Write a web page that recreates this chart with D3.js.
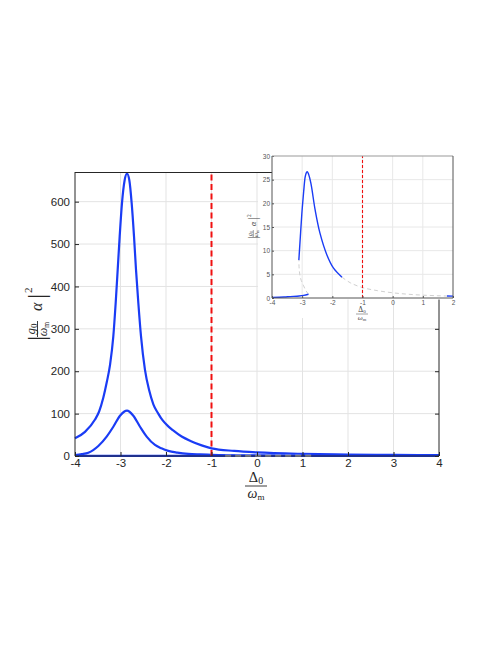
<!DOCTYPE html>
<html><head><meta charset="utf-8">
<script src="https://cdn.jsdelivr.net/npm/d3@7/dist/d3.min.js"></script>
<style>body{margin:0;background:#fff}svg{display:block}</style>
</head><body>
<svg id="c" width="498" height="645"></svg>
<script>
// ---------- data ----------
const mainXTicks = [-4,-3,-2,-1,0,1,2,3,4];
const mainYTicks = [0,100,200,300,400,500,600];
const upperX = [-4,-3.78,-3.56,-3.47,-3.377,-3.3,-3.23,-3.158,-3.106,-3.062,-3.018,-2.967,-2.91,-2.857,-2.805,-2.755,-2.703,-2.659,-2.608,-2.549,-2.462,-2.37,-2.278,-2.17,-2.081,-1.95,-1.85,-1.656,-1.45,-1.216,-1,-0.5,0,1,2,3,4];
const upperY = [41.7,57,86,105,138,175,215,282,361,439,518,597,650,666,650,597,518,439,361,282,203,155,122,100,85,70,61,46,35,25,18,12,8.5,5,3.4,2.5,2];
const middleX = [-4,-3.85,-3.707,-3.6,-3.487,-3.304,-3.158,-3.011,-2.857,-2.718,-2.571,-2.425,-2.242,-2.1,-1.949,-1.75,-1.509,-1.25,-1,0,1,2,3,4];
const middleY = [2.4,4.5,7.9,14,23.6,45.7,69,95,107,95,69,45.7,26,18,12,8,5,3.8,3,1.5,0.9,0.6,0.5,0.4];
const lowerX = [-4,0,4];
const lowerY = [0.5,0.4,0.3];
const unstableMainX = [-0.7,1.27];
const unstableMainY = [0.5,0.5];
const markerX = -1;

const insetXTicks = [-4,-3,-2,-1,0,1,2];
const insetYTicks = [0,5,10,15,20,25,30];
const inUpX = [-3.11,-3.06,-3.01,-2.95,-2.9,-2.86,-2.83,-2.79,-2.71,-2.57,-2.41,-2.18,-1.96,-1.68];
const inUpY = [8,13,17.9,22.5,25.6,26.5,26.7,26.2,24.2,18.6,13.7,9.1,6.3,4.4];
const inTailX = [-1.68,-1.4,-1,-0.5,0,0.5,1,1.5,1.8];
const inTailY = [4.4,3.2,2.2,1.55,1.1,0.8,0.6,0.48,0.42];
const inEndX = [1.8,2];
const inEndY = [0.42,0.4];
const inLowX = [-4,-3.6,-3.4,-3.1,-2.95,-2.79];
const inLowY = [0.14,0.2,0.3,0.42,0.55,0.8];
const inMidX = [-2.79,-2.88,-2.96,-3.03,-3.07,-3.1,-3.11];
const inMidY = [0.8,1.6,2.7,3.7,4.6,6.2,8];

// ---------- helpers ----------
const svg = d3.select('#c');
const blue = '#1a3cf5', red = '#f01010', gray = '#c8c8c8';
const zip = (xs, ys) => xs.map((x,i)=>[x,ys[i]]);
const fmt = d => String(d);

// ---------- main axes ----------
const M = {l:75, r:439, t:172, b:456};
const x = d3.scaleLinear().domain([-4,4]).range([M.l,M.r]);
const y = d3.scaleLinear().domain([0,670]).range([M.b,M.t]);
const gMain = svg.append('g');
gMain.selectAll('.vg').data(mainXTicks.slice(1,-1)).join('line')
  .attr('x1',d=>x(d)).attr('x2',d=>x(d)).attr('y1',M.t).attr('y2',M.b)
  .attr('stroke','#e3e3e3').attr('stroke-width',1);
gMain.selectAll('.hg').data(mainYTicks.slice(1)).join('line')
  .attr('x1',M.l).attr('x2',M.r).attr('y1',d=>y(d)).attr('y2',d=>y(d))
  .attr('stroke','#e3e3e3').attr('stroke-width',1);

const lineMain = d3.line().x(d=>x(d[0])).y(d=>y(d[1])).curve(d3.curveMonotoneX);
[zip(upperX,upperY), zip(middleX,middleY), zip(lowerX,lowerY)].forEach(d=>{
  gMain.append('path').attr('d',lineMain(d)).attr('fill','none')
    .attr('stroke',blue).attr('stroke-width',2.2);
});
gMain.append('path').attr('d',lineMain(zip(unstableMainX,unstableMainY))).attr('fill','none')
  .attr('stroke',gray).attr('stroke-width',2).attr('stroke-dasharray','6,4');
gMain.append('line').attr('x1',x(markerX)).attr('x2',x(markerX)).attr('y1',y(0)).attr('y2',y(670))
  .attr('stroke',red).attr('stroke-width',2).attr('stroke-dasharray','6,3.5');

const axB = d3.axisBottom(x).tickValues(mainXTicks).tickSize(-4).tickPadding(3).tickFormat(fmt);
const axL = d3.axisLeft(y).tickValues(mainYTicks).tickSize(-4).tickPadding(5).tickFormat(fmt);
const axR = d3.axisRight(y).tickValues(mainYTicks).tickSize(-4).tickFormat('');
function styleAxis(g, fs){
  g.select('.domain').attr('stroke','#262626').attr('stroke-width',1);
  g.selectAll('.tick line').attr('stroke','#262626');
  g.selectAll('.tick text').attr('fill','#262626').attr('font-family','Liberation Sans, Arial, sans-serif').attr('font-size',fs);
}
gMain.append('g').attr('transform',`translate(0,${M.b})`).call(axB).call(g=>styleAxis(g,11.5))
  .call(g=>g.select('.domain').attr('d',`M${M.l},0H${M.r}`));
gMain.append('g').attr('transform',`translate(${M.l},0)`).call(axL).call(g=>styleAxis(g,11.5))
  .call(g=>g.select('.domain').attr('d',`M0,${M.t}V${M.b}`));
gMain.append('g').attr('transform',`translate(${M.r},0)`).call(axR).call(g=>styleAxis(g,11.5))
  .call(g=>g.select('.domain').attr('d',`M0,${M.t}V${M.b}`));

// main labels
const serif = 'Liberation Serif, Times New Roman, serif';
const yl = svg.append('g').attr('transform','translate(37,314) rotate(-90)');
yl.append('text').attr('x',-27).attr('y',8).attr('font-family',serif).attr('font-size',26).attr('fill','#262626').text('|');
yl.append('text').attr('x',-15).attr('y',-2).attr('text-anchor','middle').attr('font-family',serif).attr('font-style','italic').attr('font-size',13).attr('fill','#262626')
  .call(t=>{t.append('tspan').text('g');t.append('tspan').attr('font-size',9).attr('font-style','normal').attr('dy',2).text('0');});
yl.append('line').attr('x1',-23).attr('x2',-7).attr('y1',0.5).attr('y2',0.5).attr('stroke','#262626').attr('stroke-width',0.9);
yl.append('text').attr('x',-15).attr('y',10).attr('text-anchor','middle').attr('font-family',serif).attr('font-style','italic').attr('font-size',12).attr('fill','#262626')
  .call(t=>{t.append('tspan').text('ω');t.append('tspan').attr('font-size',8).attr('font-style','normal').attr('dy',2).text('m');});
yl.append('text').attr('x',3).attr('y',5).attr('font-family',serif).attr('font-style','italic').attr('font-size',16).attr('fill','#262626').text('α');
yl.append('text').attr('x',15).attr('y',8).attr('font-family',serif).attr('font-size',26).attr('fill','#262626').text('|');
yl.append('text').attr('x',21).attr('y',-5).attr('font-family',serif).attr('font-size',11).attr('fill','#262626').text('2');

const xl = svg.append('g').attr('transform','translate(256,0)');
xl.append('text').attr('x',0).attr('y',482).attr('text-anchor','middle').attr('font-family',serif).attr('font-size',14.5).attr('fill','#262626')
  .call(t=>{t.append('tspan').text('Δ');t.append('tspan').attr('font-size',10).attr('dy',2).text('0');});
xl.append('line').attr('x1',-11).attr('x2',11).attr('y1',486).attr('y2',486).attr('stroke','#262626').attr('stroke-width',0.9);
xl.append('text').attr('x',0).attr('y',498).attr('text-anchor','middle').attr('font-family',serif).attr('font-style','italic').attr('font-size',14).attr('fill','#262626')
  .call(t=>{t.append('tspan').text('ω');t.append('tspan').attr('font-size',9).attr('font-style','normal').attr('dy',2).text('m');});

// ---------- inset ----------
svg.append('rect').attr('x',258).attr('y',145).attr('width',205).attr('height',154.5).attr('fill','#fff');
svg.append('rect').attr('x',258).attr('y',299).attr('width',82).attr('height',19).attr('fill','#fff');
svg.append('line').attr('x1',M.l).attr('x2',272).attr('y1',M.t+0.5).attr('y2',M.t+0.5).attr('stroke','#262626');

const I = {l:272, r:453, t:156, b:298};
const xi = d3.scaleLinear().domain([-4,2]).range([I.l,I.r]);
const yi = d3.scaleLinear().domain([0,30]).range([I.b,I.t]);
const gIn = svg.append('g');
gIn.selectAll('.ivg').data(insetXTicks.slice(1,-1)).join('line')
  .attr('x1',d=>xi(d)).attr('x2',d=>xi(d)).attr('y1',I.t).attr('y2',I.b).attr('stroke','#e8e8e8');
gIn.selectAll('.ihg').data(insetYTicks.slice(1,-1)).join('line')
  .attr('x1',I.l).attr('x2',I.r).attr('y1',d=>yi(d)).attr('y2',d=>yi(d)).attr('stroke','#e8e8e8');
const lineIn = d3.line().x(d=>xi(d[0])).y(d=>yi(d[1])).curve(d3.curveCatmullRom.alpha(0.5));
[zip(inTailX,inTailY), zip(inMidX,inMidY)].forEach(d=>{
  gIn.append('path').attr('d',lineIn(d)).attr('fill','none').attr('stroke','#d0d0d0')
    .attr('stroke-width',1).attr('stroke-dasharray','4,3');
});
[zip(inUpX,inUpY), zip(inLowX,inLowY), zip(inEndX,inEndY)].forEach(d=>{
  gIn.append('path').attr('d',lineIn(d)).attr('fill','none').attr('stroke',blue).attr('stroke-width',1.4);
});
gIn.append('line').attr('x1',xi(markerX)).attr('x2',xi(markerX)).attr('y1',yi(0)).attr('y2',yi(30))
  .attr('stroke',red).attr('stroke-width',1.1).attr('stroke-dasharray','3,2');

const iaxB = d3.axisBottom(xi).tickValues(insetXTicks).tickSize(-2).tickPadding(2).tickFormat(fmt);
const iaxL = d3.axisLeft(yi).tickValues(insetYTicks).tickSize(-2).tickPadding(2).tickFormat(fmt);
function styleIn(g){
  g.select('.domain').attr('stroke','#555').attr('stroke-width',1);
  g.selectAll('.tick line').attr('stroke','#555');
  g.selectAll('.tick text').attr('fill','#555').attr('font-family','Liberation Sans, Arial, sans-serif').attr('font-size',6.5);
}
gIn.append('g').attr('transform',`translate(0,${I.b})`).call(iaxB).call(styleIn)
  .call(g=>g.select('.domain').attr('d',`M${I.l},0H${I.r}`));
gIn.append('g').attr('transform',`translate(${I.l},0)`).call(iaxL).call(styleIn)
  .call(g=>g.select('.domain').attr('d',`M0,${I.t}V${I.b}`));
gIn.append('line').attr('x1',I.l).attr('x2',I.r).attr('y1',I.t).attr('y2',I.t).attr('stroke','#999');
gIn.append('line').attr('x1',I.r).attr('x2',I.r).attr('y1',I.t).attr('y2',I.b).attr('stroke','#555');

// inset labels
const iyl = svg.append('g').attr('transform','translate(253,227) rotate(-90)');
iyl.append('text').attr('x',-12).attr('y',4).attr('font-family',serif).attr('font-size',12).attr('fill','#444').text('|');
iyl.append('text').attr('x',-6.5).attr('y',-1).attr('text-anchor','middle').attr('font-family',serif).attr('font-style','italic').attr('font-size',6.5).attr('fill','#444')
  .call(t=>{t.append('tspan').text('g');t.append('tspan').attr('font-size',4.5).attr('font-style','normal').attr('dy',1).text('0');});
iyl.append('line').attr('x1',-10).attr('x2',-3).attr('y1',0.3).attr('y2',0.3).attr('stroke','#444').attr('stroke-width',0.5);
iyl.append('text').attr('x',-6.5).attr('y',5).attr('text-anchor','middle').attr('font-family',serif).attr('font-style','italic').attr('font-size',6).attr('fill','#444')
  .call(t=>{t.append('tspan').text('ω');t.append('tspan').attr('font-size',4).attr('font-style','normal').attr('dy',1).text('m');});
iyl.append('text').attr('x',1).attr('y',2.5).attr('font-family',serif).attr('font-style','italic').attr('font-size',8).attr('fill','#444').text('α');
iyl.append('text').attr('x',7).attr('y',4).attr('font-family',serif).attr('font-size',12).attr('fill','#444').text('|');
iyl.append('text').attr('x',10).attr('y',-2.5).attr('font-family',serif).attr('font-size',5.5).attr('fill','#444').text('2');

const ixl = svg.append('g').attr('transform','translate(362,0)');
ixl.append('text').attr('x',0).attr('y',312).attr('text-anchor','middle').attr('font-family',serif).attr('font-size',7.5).attr('fill','#444')
  .call(t=>{t.append('tspan').text('Δ');t.append('tspan').attr('font-size',5).attr('dy',1).text('0');});
ixl.append('line').attr('x1',-6).attr('x2',6).attr('y1',314).attr('y2',314).attr('stroke','#444').attr('stroke-width',0.5);
ixl.append('text').attr('x',0).attr('y',320).attr('text-anchor','middle').attr('font-family',serif).attr('font-style','italic').attr('font-size',7).attr('fill','#444')
  .call(t=>{t.append('tspan').text('ω');t.append('tspan').attr('font-size',4.5).attr('font-style','normal').attr('dy',1).text('m');});
</script>
</body></html>
